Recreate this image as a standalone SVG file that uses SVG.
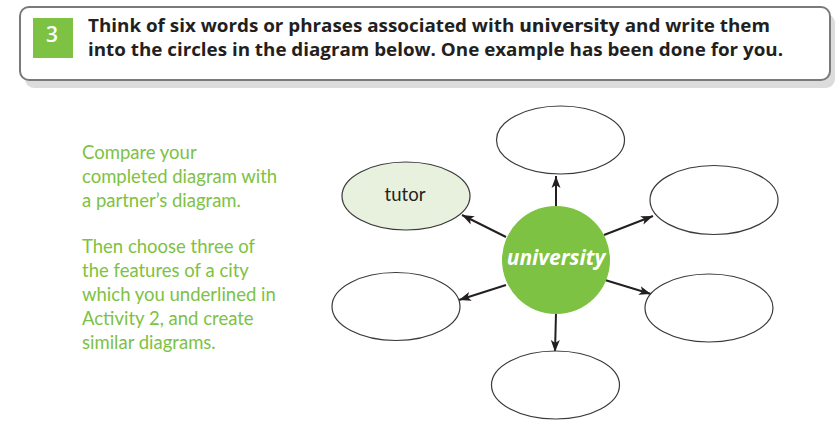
<svg xmlns="http://www.w3.org/2000/svg" width="840" height="433" viewBox="0 0 840 433">
<defs>
<marker id="ah" viewBox="0 0 12 10" refX="12" refY="5" markerWidth="12" markerHeight="10" markerUnits="userSpaceOnUse" orient="auto">
<path d="M0,0.5 L12,5 L0,9.5 L3,5 Z" fill="#231f20"/>
</marker>
<style>
.el{fill:#fff;stroke:#3a3a3a;stroke-width:1.2}
.con{stroke:#231f20;stroke-width:2;fill:none;marker-end:url(#ah)}
.side{font-family:Lato,"Open Sans",sans-serif;font-size:18.5px;fill:#7dc242}
.title{font-family:"Open Sans","Liberation Sans",sans-serif;font-weight:bold;font-size:18px;fill:#231f20}
</style>
</defs>
<rect width="840" height="433" fill="#fff"/>
<g id="header">
<rect x="25" y="14" width="810" height="74" rx="9" fill="#dcdcdc"/>
<rect x="20" y="7" width="810" height="73" rx="9" fill="#fff" stroke="#7a7a7a" stroke-width="2"/>
<rect x="33" y="18" width="40" height="40" fill="#7dc242"/>
<text x="52" y="42" text-anchor="middle" font-family="'Open Sans',sans-serif" font-weight="600" font-size="21" fill="#fff">3</text>
<text class="title" x="88" y="32" textLength="682" lengthAdjust="spacingAndGlyphs">Think of six words or phrases associated with <tspan font-family="'DejaVu Sans',sans-serif" font-size="17px">university</tspan> and write them</text>
<text class="title" x="88" y="56" textLength="695" lengthAdjust="spacingAndGlyphs">into the circles in the diagram below. One example has been done for you.</text>
</g>
<g id="instructions">
<text class="side" x="82" y="159">Compare your</text>
<text class="side" x="82" y="183">completed diagram with</text>
<text class="side" x="82" y="207">a partner’s diagram.</text>
<text class="side" x="82" y="253">Then choose three of</text>
<text class="side" x="82" y="277">the features of a city</text>
<text class="side" x="82" y="301">which you underlined in</text>
<text class="side" x="82" y="325">Activity 2, and create</text>
<text class="side" x="82" y="349">similar diagrams.</text>
</g>
<g id="connectors">
<line class="con" x1="556" y1="207" x2="556" y2="176"/>
<line class="con" x1="506" y1="237" x2="462" y2="215"/>
<line class="con" x1="506" y1="285" x2="459" y2="300"/>
<line class="con" x1="556" y1="313" x2="555" y2="352"/>
<line class="con" x1="604" y1="235" x2="653" y2="216"/>
<line class="con" x1="605" y1="280" x2="651" y2="294"/>
</g>
<g id="node-center">
<circle cx="556" cy="260" r="54" fill="#7dc242"/>
<text x="556" y="265" text-anchor="middle" font-family="'Open Sans',sans-serif" font-weight="bold" font-style="italic" font-size="21" fill="#fff">university</text>
</g>
<g id="node-top"><ellipse class="el" cx="560.5" cy="140" rx="64" ry="34"/></g>
<g id="node-tutor">
<ellipse class="el" cx="406" cy="196" rx="64" ry="34" style="fill:#e8f1de"/>
<text x="405" y="201" text-anchor="middle" font-family="Lato,sans-serif" font-size="18.5" fill="#231f20">tutor</text>
</g>
<g id="node-left"><ellipse class="el" cx="396" cy="306.5" rx="64" ry="34"/></g>
<g id="node-bottom"><ellipse class="el" cx="555.5" cy="385" rx="64" ry="34"/></g>
<g id="node-right-top"><ellipse class="el" cx="714" cy="200" rx="64" ry="34.5"/></g>
<g id="node-right-bottom"><ellipse class="el" cx="709" cy="308" rx="64" ry="34"/></g>
</svg>
